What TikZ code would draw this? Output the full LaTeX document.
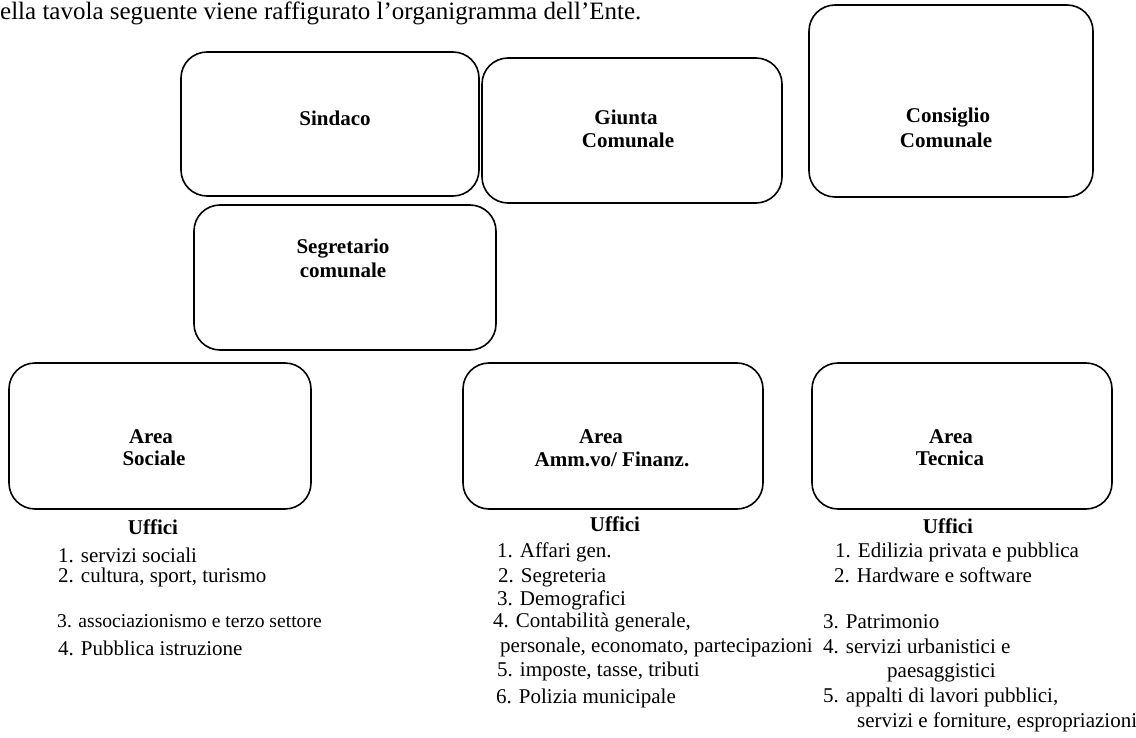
\documentclass[tikz,border=0pt]{standalone}
\usepackage{fontspec}
\setmainfont{Liberation Serif}
\begin{document}
\begin{tikzpicture}[x=1pt,y=-1pt,
  box/.style={draw, line width=1.6pt, rounded corners=26pt, inner sep=0pt},
  lbl/.style={anchor=base, inner sep=0pt, font=\fontsize{21}{24}\selectfont\bfseries},
  item/.style={anchor=base west, inner sep=0pt, font=\fontsize{21}{24}\selectfont}]
\useasboundingbox (0,0) rectangle (1136,738);

% title
\node[item, font=\fontsize{25}{28}\selectfont] (title) at (0,19.5) {ella tavola seguente viene raffigurato l’organigramma dell’Ente.};

% boxes
\node[box, minimum width=298pt, minimum height=144pt] (sindaco) at (330,124) {};
\node[box, minimum width=300pt, minimum height=145pt] (giunta) at (632,130.5) {};
\node[box, minimum width=284pt, minimum height=192pt] (consiglio) at (951,101) {};
\node[box, minimum width=302pt, minimum height=145pt] (segretario) at (345,277.5) {};
\node[box, minimum width=302pt, minimum height=146pt] (sociale) at (160,436) {};
\node[box, minimum width=300pt, minimum height=146pt] (amm) at (613,436) {};
\node[box, minimum width=300pt, minimum height=146pt] (tecnica) at (962,436) {};

% box labels
\node[lbl] (l1) at (335,126) {Sindaco};
\node[lbl] (l2a) at (626,125) {Giunta};
\node[lbl] (l2b) at (628,148) {Comunale};
\node[lbl] (l3a) at (948,123) {Consiglio};
\node[lbl] (l3b) at (946,148) {Comunale};
\node[lbl] (l4a) at (343,254) {Segretario};
\node[lbl] (l4b) at (343,278) {comunale};
\node[lbl] (l5a) at (151,443) {Area};
\node[lbl] (l5b) at (154,465) {Sociale};
\node[lbl] (l6a) at (601,443) {Area};
\node[lbl] (l6b) at (612,466) {Amm.vo/ Finanz.};
\node[lbl] (l7a) at (951,443) {Area};
\node[lbl] (l7b) at (950,465) {Tecnica};

% Uffici left
\node[lbl] (u1) at (153,534) {Uffici};
\node[item] (a1) at (58,562) {1. servizi sociali};
\node[item] (a2) at (58,582) {2. cultura, sport, turismo};
\node[item, font=\fontsize{19.6}{24}\selectfont] (a3) at (57,627) {3. associazionismo e terzo settore};
\node[item] (a4) at (58,655) {4. Pubblica istruzione};

% Uffici middle
\node[lbl] (u2) at (615,531) {Uffici};
\node[item] (b1) at (497,557) {1. Affari gen.};
\node[item] (b2) at (498,582) {2. Segreteria};
\node[item] (b3) at (497,605) {3. Demografici};
\node[item] (b4) at (493,627) {4. Contabilità generale,};
\node[item] (b4b) at (500,652) {personale, economato, partecipazioni};
\node[item] (b5) at (497,676) {5. imposte, tasse, tributi};
\node[item] (b6) at (496,703) {6. Polizia municipale};

% Uffici right
\node[lbl] (u3) at (948,533) {Uffici};
\node[item] (c1) at (835,557) {1. Edilizia privata e pubblica};
\node[item] (c2) at (834,582) {2. Hardware e software};
\node[item] (c3) at (823,628) {3. Patrimonio};
\node[item] (c4) at (823,653) {4. servizi urbanistici e};
\node[item] (c4b) at (887,677) {paesaggistici};
\node[item] (c5) at (823,702) {5. appalti di lavori pubblici,};
\node[item] (c5b) at (857,727) {servizi e forniture, espropriazioni};
\end{tikzpicture}
\end{document}
